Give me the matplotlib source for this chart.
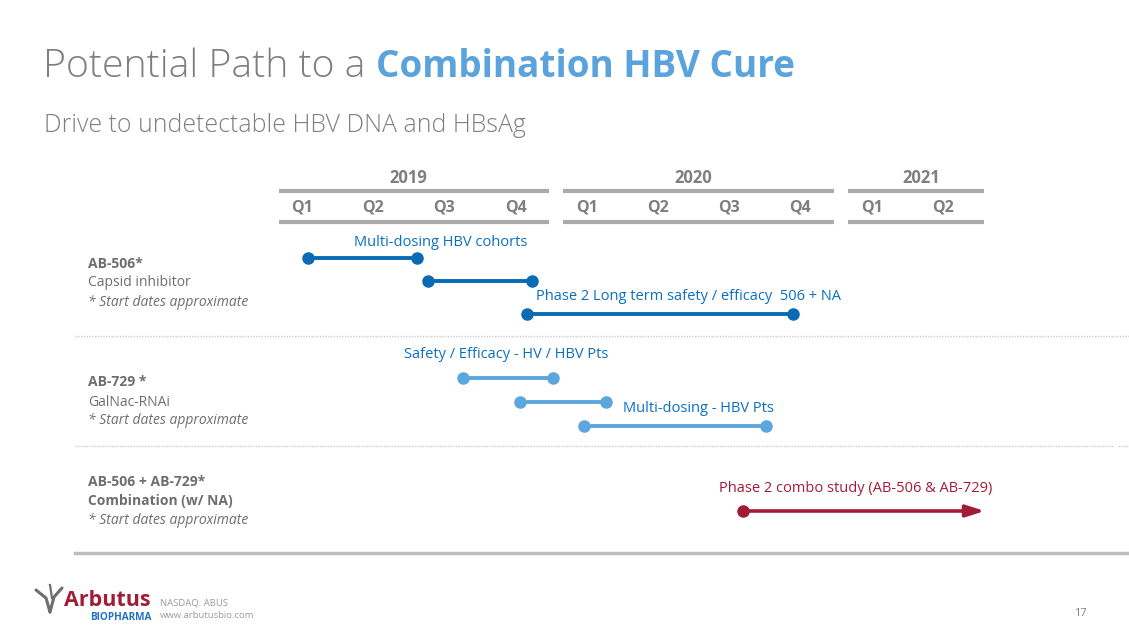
import matplotlib
matplotlib.use("Agg")
from matplotlib import pyplot as plt

# Timeline data (x in quarters, 0 = Q1 2019)
years = ["2019", "2020", "2021"]
year_quarters = [[0, 3], [4, 7], [8, 9]]
quarter_labels = ["Q1", "Q2", "Q3", "Q4", "Q1", "Q2", "Q3", "Q4", "Q1", "Q2"]

bar_starts = [0.08, 1.77, 3.16, 2.26, 3.06, 3.96, 6.19]
bar_ends = [1.62, 3.23, 6.90, 3.53, 4.27, 6.52, 9.59]
bar_groups = ["506", "506", "506", "729", "729", "729", "combo"]

label_texts = ["Multi-dosing HBV cohorts",
               "Phase 2 Long term safety / efficacy  506 + NA",
               "Safety / Efficacy - HV / HBV Pts",
               "Multi-dosing - HBV Pts",
               "Phase 2 combo study (AB-506 & AB-729)"]
# label anchor positions in quarters
label_x = [1.95, 3.28, 2.87, 4.51, 7.78]
label_ha = ["center", "left", "center", "left", "center"]
label_grp = ["506", "506", "729", "729", "combo"]

# layout (pixels)
W, H = 1129, 635
bar_rows = [258, 281, 314, 378, 402, 426, 511]
label_rows = [242, 297, 355, 408, 489]
q0_px, q_step = 302, 71.2

DARK_BLUE = "#0A6BB5"
LIGHT_BLUE = "#5CA6DE"
TEXT_BLUE = "#0B70C0"
RED = "#A31C37"
GREY = "#7F7F7F"
LINE_GREY = "#ABABAB"
colors = {"506": DARK_BLUE, "729": LIGHT_BLUE, "combo": RED}
text_colors = {"506": TEXT_BLUE, "729": TEXT_BLUE, "combo": RED}

FONT = "Open Sans"

fig = plt.figure(figsize=(W / 100, H / 100), dpi=100)
fig.patch.set_facecolor("white")

# overlay axes in pixel coordinates for page furniture
ov = fig.add_axes([0, 0, 1, 1])
ov.set_xlim(0, W)
ov.set_ylim(H, 0)
ov.axis("off")

# data axes: x in quarters
ax = fig.add_axes([0, 0, 1, 1])
ax.set_xlim(-q0_px / q_step, (W - q0_px) / q_step)
ax.set_ylim(H, 0)
ax.axis("off")
ax.patch.set_alpha(0)

# Title in two colours
t1 = ov.text(43, 67, "Potential Path to a ", fontsize=28.2, color="#7F7F7F",
             family=FONT, fontweight="light", va="center", ha="left")
fig.canvas.draw()
bb = t1.get_window_extent()
ov.text(bb.x1, 67, "Combination HBV Cure", fontsize=26.6, color="#5BA3DC",
        family=FONT, fontweight="bold", va="center", ha="left",
        transform=matplotlib.transforms.blended_transform_factory(
            matplotlib.transforms.IdentityTransform(), ov.transData))
ov.text(44, 125, "Drive to undetectable HBV DNA and HBsAg", fontsize=17.9,
        color="#7F7F7F", family=FONT, fontweight="light", va="center", ha="left")

# Year headers and quarter labels
for yr, (qa, qb) in zip(years, year_quarters):
    end = qb + (0.58 if yr == "2021" else 0.47)
    ax.plot([qa - 0.33, end], [191, 191], color=LINE_GREY, lw=3, solid_capstyle="butt")
    ax.plot([qa - 0.33, end], [222, 222], color=LINE_GREY, lw=3, solid_capstyle="butt")
    ax.text((qa + qb) / 2 + (0.2 if yr == "2021" else 0), 178, yr, fontsize=12,
            fontweight="bold", color=GREY, family=FONT, ha="center", va="center")
for i, ql in enumerate(quarter_labels):
    ax.text(i, 208, ql, fontsize=11.5, fontweight="bold", color=GREY, family=FONT,
            ha="center", va="center")

# Left-hand row labels
row_text = [
    (264, "AB-506*", "bold", "normal"), (283, "Capsid inhibitor", "normal", "normal"),
    (302, "* Start dates approximate", "normal", "italic"),
    (382, "AB-729 *", "bold", "normal"), (402, "GalNac-RNAi", "normal", "normal"),
    (421, "* Start dates approximate", "normal", "italic"),
    (482, "AB-506 + AB-729*", "bold", "normal"), (501, "Combination (w/ NA)", "bold", "normal"),
    (521, "* Start dates approximate", "normal", "italic"),
]
for y, s, w, st in row_text:
    ov.text(88, y, s, fontsize=10, fontweight=w, style=st, color="#6E6E6E",
            family=FONT, ha="left", va="center")

# separators
ov.plot([75, W], [336, 336], color="#CCCCCC", lw=1, ls=(0, (1, 1)))
ov.plot([75, 1113], [446, 446], color="#CCCCCC", lw=1, ls=(0, (1, 1)))
ov.plot([1118, W], [446, 446], color="#CCCCCC", lw=1, ls=(0, (1, 1)))
ov.plot([75, W], [553, 553], color="#BDBDBD", lw=2.5)

# Bars
for s, e, g, y in zip(bar_starts, bar_ends, bar_groups, bar_rows):
    c = colors[g]
    if g == "combo":
        ax.annotate("", xy=(e, y), xytext=(s, y),
                    arrowprops=dict(arrowstyle="-|>,head_length=1.1,head_width=0.35",
                                    color=c, lw=2.6, shrinkA=0, shrinkB=0))
        ax.plot([s], [y], marker="o", ms=8, color=c)
    else:
        ax.plot([s, e], [y, y], color=c, lw=2.8, marker="o", ms=8,
                solid_capstyle="butt")

# Bar labels
for s, x, ha, g, y in zip(label_texts, label_x, label_ha, label_grp, label_rows):
    ax.text(x, y, s, fontsize=10.5, color=text_colors[g], family=FONT,
            ha=ha, va="center")

# Footer logo
ov.plot([36, 46, 50], [590, 598, 612], color="#6D6E71", lw=2.2, solid_capstyle="round")
ov.plot([62, 54, 50], [588, 597, 612], color="#6D6E71", lw=2.2, solid_capstyle="round")
ov.plot([50, 52], [585, 598], color="#6D6E71", lw=1.6)
ov.text(64, 600, "Arbutus", fontsize=15.5, fontweight="bold", color="#A31C37",
        family=FONT, ha="left", va="center")
ov.text(90, 617, "BIOPHARMA", fontsize=7.2, fontweight="bold", color="#1F73C1",
        family=FONT, ha="left", va="center")
ov.text(160, 603, "NASDAQ: ABUS", fontsize=6.8, color="#9A9A9A", family=FONT,
        ha="left", va="center")
ov.text(160, 615, "www.arbutusbio.com", fontsize=6.8, color="#9A9A9A", family=FONT,
        ha="left", va="center")
ov.text(1087, 614, "17", fontsize=8, color="#7F7F7F", family=FONT,
        ha="right", va="center")

fig.savefig("out.png", dpi=100, facecolor="white")
